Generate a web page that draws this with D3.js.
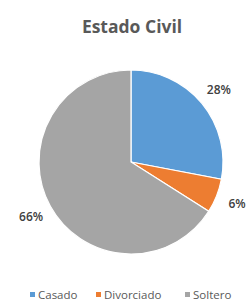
<!DOCTYPE html>
<html>
<head>
<meta charset="utf-8">
<script src="https://cdn.jsdelivr.net/npm/d3@7"></script>
<style>
  body { margin: 0; background: #fff; }
  svg { display: block; font-family: "Open Sans", "DejaVu Sans", sans-serif; }
</style>
</head>
<body>
<div id="chart"></div>
<script>
// data
var categories = ['Casado', 'Divorciado', 'Soltero'];
var values = [28, 6, 66];
var colors = ['#5b9bd5', '#ed7d31', '#a5a5a5'];

var width = 248, height = 305;
var cx = 131, cy = 162, radius = 92, labelRadius = 114;

var svg = d3.select('#chart').append('svg')
    .attr('width', width)
    .attr('height', height);

svg.append('text')
    .attr('x', 132)
    .attr('y', 33)
    .attr('text-anchor', 'middle')
    .style('font-size', '17.5px')
    .style('font-weight', 'bold')
    .style('fill', '#595959')
    .text('Estado Civil');

var color = d3.scaleOrdinal().domain(categories).range(colors);

var pie = d3.pie().sort(null).value(function (d) { return d.value; });
var data = categories.map(function (c, i) { return { name: c, value: values[i] }; });
var arcs = pie(data);

var arc = d3.arc().innerRadius(0).outerRadius(radius);
var labelArc = d3.arc().innerRadius(labelRadius).outerRadius(labelRadius);

var g = svg.append('g').attr('transform', 'translate(' + cx + ',' + cy + ')');

g.selectAll('path')
    .data(arcs)
    .enter().append('path')
    .attr('d', arc)
    .attr('fill', function (d) { return color(d.data.name); })
    .attr('stroke', '#fff')
    .attr('stroke-width', 1.2);

var total = d3.sum(values);
g.selectAll('text.lbl')
    .data(arcs)
    .enter().append('text')
    .attr('class', 'lbl')
    .attr('x', function (d) { return labelArc.centroid(d)[0]; })
    .attr('y', function (d) { return labelArc.centroid(d)[1]; })
    .attr('dy', '0.35em')
    .attr('text-anchor', 'middle')
    .style('font-size', '12px')
    .style('font-weight', '600')
    .style('fill', '#404040')
    .text(function (d) { return d3.format('.0%')(d.value / total); });

// legend
var legendX = [30, 96, 185];
var legend = svg.selectAll('g.legend')
    .data(categories)
    .enter().append('g')
    .attr('class', 'legend')
    .attr('transform', function (d, i) { return 'translate(' + legendX[i] + ',296)'; });

legend.append('rect')
    .attr('y', -4)
    .attr('width', 5)
    .attr('height', 5)
    .attr('fill', function (d) { return color(d); });

legend.append('text')
    .attr('x', 8)
    .attr('y', 3)
    .style('font-size', '11.5px')
    .style('fill', '#595959')
    .text(function (d) { return d; });
</script>
</body>
</html>
